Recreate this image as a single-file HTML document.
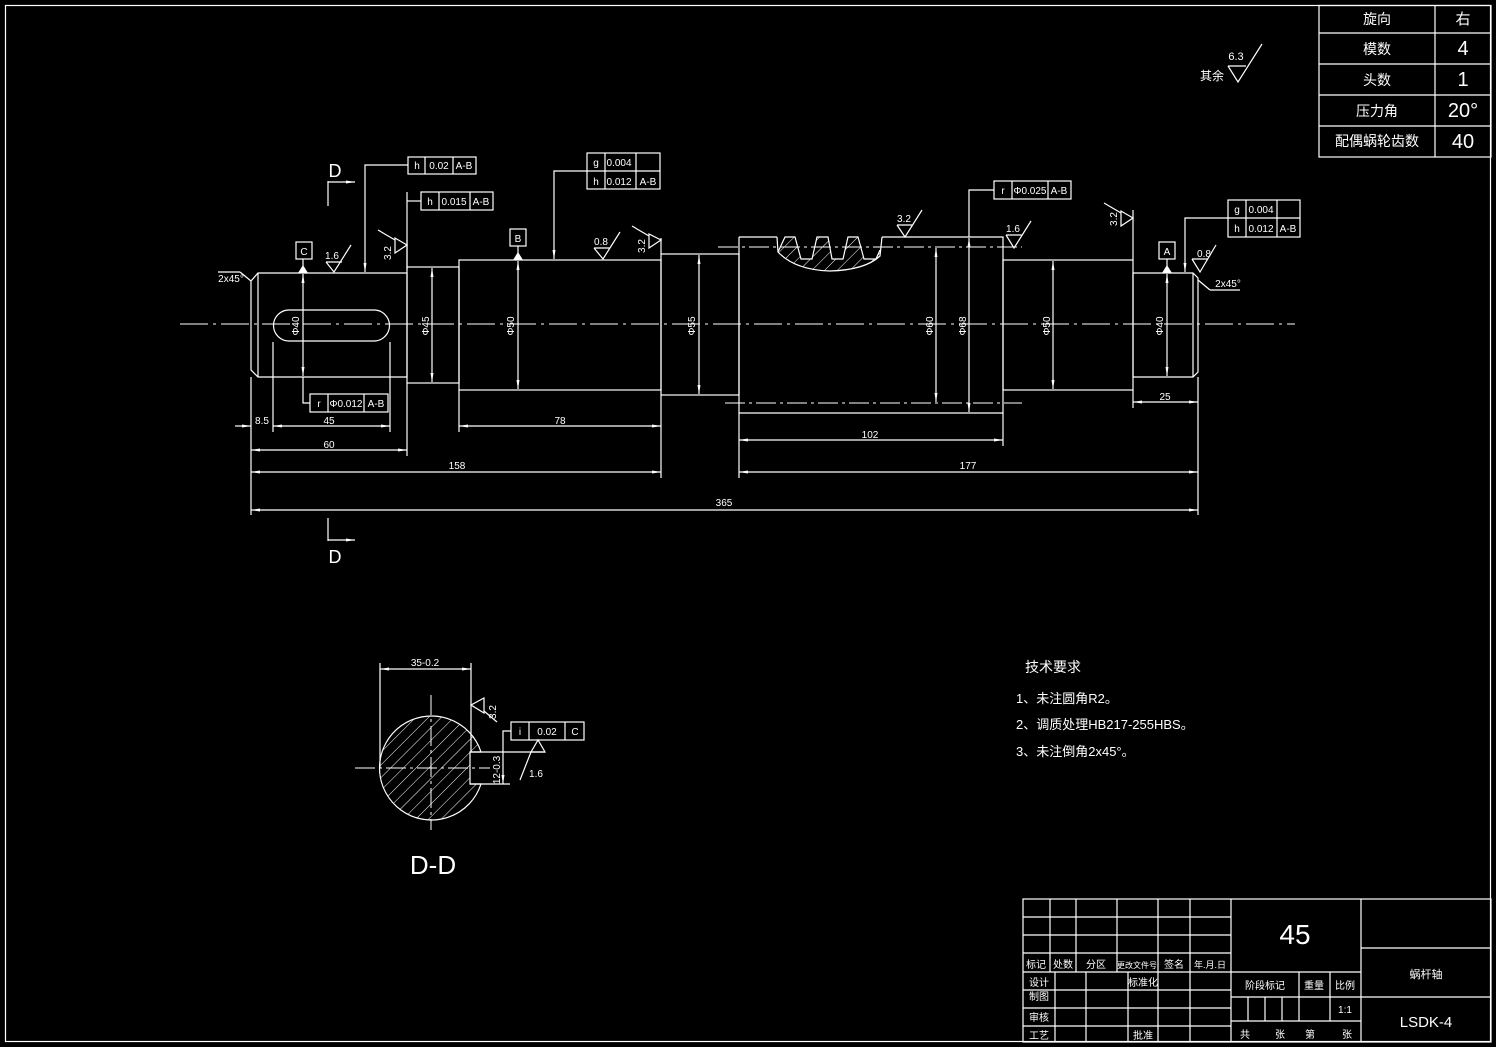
<!DOCTYPE html>
<html><head><meta charset="utf-8"><style>
html,body{margin:0;padding:0;background:#000;}
svg{display:block;}
text{fill:#fff;font-family:"Liberation Sans","Noto Sans CJK SC",sans-serif;}
</style></head><body>
<svg width="1496" height="1047" viewBox="0 0 1496 1047" xmlns="http://www.w3.org/2000/svg">
<defs>
<pattern id="hat" width="9" height="9" patternUnits="userSpaceOnUse" patternTransform="rotate(45)">
<line x1="0" y1="0" x2="0" y2="9" stroke="#fff" stroke-width="1"/>
</pattern>
<marker id="ar" markerWidth="10" markerHeight="6" refX="9" refY="3" orient="auto" markerUnits="userSpaceOnUse"><path d="M0,1.5 L9,3 L0,4.5 Z" fill="#fff"/></marker>
<marker id="al" markerWidth="10" markerHeight="6" refX="1" refY="3" orient="auto" markerUnits="userSpaceOnUse"><path d="M10,1.5 L1,3 L10,4.5 Z" fill="#fff"/></marker>
</defs>
<g stroke="#fff" stroke-width="1.2" fill="none">
<rect x="5.5" y="5.5" width="1485" height="1036"/>
<rect x="1319" y="5.5" width="172" height="151.5"/>
<line x1="1319" y1="33" x2="1491" y2="33"/><line x1="1319" y1="64" x2="1491" y2="64"/>
<line x1="1319" y1="95" x2="1491" y2="95"/><line x1="1319" y1="126" x2="1491" y2="126"/>
<line x1="1435" y1="5" x2="1435" y2="157"/>
<path d="M1228,66 L1246,66 M1228,66 L1238,82 L1262,44"/>

<line x1="180" y1="324" x2="1295" y2="324" stroke-dasharray="28,5,3,5" stroke-width="1"/>
<path d="M258,273 L407,273 L407,377 L258,377 L251,370 L251,281 Z"/>
<line x1="258" y1="273" x2="258" y2="377"/>
<path d="M289,310 L374,310 A15.5,15.5 0 0 1 374,341 L289,341 A15.5,15.5 0 0 1 289,310 Z"/>
<rect x="407" y="267" width="52" height="116"/>
<rect x="459" y="260" width="202" height="130"/>
<rect x="661" y="254" width="78" height="141"/>
<path d="M739,237 L777,237"/>
<path d="M882,237 L1003,237 L1003,413 L739,413 L739,237"/>
<line x1="718" y1="247" x2="1022" y2="247" stroke-dasharray="20,4,3,4" stroke-width="1"/>
<line x1="725" y1="403" x2="1022" y2="403" stroke-dasharray="20,4,3,4" stroke-width="1"/>
<path d="M778,252 L785,237 L795,237 L801,259 L812,259 L817,237 L828,237 L832,259 L843,259 L848,237 L858,237 L864,259 L876,259 L880,250 L880,256 Q865,270 830,271 Q795,270 778,252 Z" fill="url(#hat)" stroke="none"/>
<path d="M777,237 L778,252 Q795,270 830,271 Q865,270 880,256 L882,237" />
<path d="M778,252 L785,237 L795,237 L801,259 L812,259 L817,237 L828,237 L832,259 L843,259 L848,237 L858,237 L864,259 L876,259 L880,250" />
<rect x="1003" y="260" width="130" height="130"/>
<path d="M1133,273 L1193,273 L1198,278 L1198,372 L1193,377 L1133,377 Z"/>
<line x1="1193" y1="273" x2="1193" y2="377"/>
<line x1="1198" y1="280" x2="1210" y2="290"/><line x1="1210" y1="290" x2="1240" y2="290"/>
<line x1="251" y1="281" x2="240" y2="272"/><line x1="240" y1="272" x2="218" y2="272"/>

<g marker-start="url(#al)" marker-end="url(#ar)">
<line x1="303" y1="274" x2="303" y2="376"/>
<line x1="432" y1="268" x2="432" y2="382"/>
<line x1="518" y1="261" x2="518" y2="389"/>
<line x1="699" y1="255" x2="699" y2="394"/>
<line x1="936" y1="248" x2="936" y2="402"/>
<line x1="969" y1="238" x2="969" y2="412"/>
<line x1="1053" y1="261" x2="1053" y2="389"/>
<line x1="1167" y1="274" x2="1167" y2="376"/>
</g>
<line x1="251" y1="377" x2="251" y2="515"/>
<line x1="273" y1="342" x2="273" y2="432"/>
<line x1="390" y1="342" x2="390" y2="432"/>
<line x1="407" y1="383" x2="407" y2="456"/>
<line x1="459" y1="390" x2="459" y2="432"/>
<line x1="661" y1="395" x2="661" y2="478"/>
<line x1="739" y1="413" x2="739" y2="478"/>
<line x1="1003" y1="413" x2="1003" y2="446"/>
<line x1="1133" y1="390" x2="1133" y2="408"/>
<line x1="1198" y1="377" x2="1198" y2="515"/>
<g marker-start="url(#al)" marker-end="url(#ar)">
<line x1="273" y1="426" x2="390" y2="426"/>
<line x1="251" y1="450" x2="407" y2="450"/>
<line x1="459" y1="426" x2="661" y2="426"/>
<line x1="251" y1="472" x2="661" y2="472"/>
<line x1="739" y1="440" x2="1003" y2="440"/>
<line x1="739" y1="472" x2="1198" y2="472"/>
<line x1="1133" y1="402" x2="1198" y2="402"/>
<line x1="251" y1="510" x2="1198" y2="510"/>
</g>
<line x1="235" y1="426" x2="251" y2="426" marker-end="url(#ar)"/>

<line x1="328" y1="181" x2="328" y2="206"/><line x1="328" y1="182" x2="355" y2="182" marker-end="url(#ar)"/>
<line x1="328" y1="518" x2="328" y2="541"/><line x1="328" y1="540" x2="355" y2="540" marker-end="url(#ar)"/>

<rect x="408" y="157" width="68" height="17"/><line x1="425" y1="157" x2="425" y2="174"/><line x1="453" y1="157" x2="453" y2="174"/>
<path d="M408,165 L365,165 L365,272" marker-end="url(#ar)"/>
<rect x="421" y="192" width="72" height="18"/><line x1="439" y1="192" x2="439" y2="210"/><line x1="470" y1="192" x2="470" y2="210"/>
<line x1="421" y1="201" x2="407" y2="201"/><line x1="407" y1="192" x2="407" y2="267"/>
<rect x="587" y="153" width="73" height="36"/><line x1="587" y1="171" x2="660" y2="171"/><line x1="605" y1="153" x2="605" y2="189"/><line x1="636" y1="153" x2="636" y2="189"/>
<path d="M587,171 L554,171 L554,259" marker-end="url(#ar)"/>
<rect x="310" y="394" width="78" height="18"/><line x1="328" y1="394" x2="328" y2="412"/><line x1="364" y1="394" x2="364" y2="412"/>
<path d="M310,403 L303,403 L303,377"/>
<rect x="994" y="181" width="77" height="18"/><line x1="1012" y1="181" x2="1012" y2="199"/><line x1="1048" y1="181" x2="1048" y2="199"/>
<path d="M994,190 L969,190 L969,237"/>
<rect x="1228" y="200" width="72" height="37"/><line x1="1228" y1="218" x2="1300" y2="218"/><line x1="1246" y1="200" x2="1246" y2="237"/><line x1="1277" y1="200" x2="1277" y2="237"/>
<path d="M1228,218 L1185,218 L1185,272" marker-end="url(#ar)"/>
<rect x="296" y="242" width="16" height="17"/><line x1="303" y1="259" x2="303" y2="273"/>
<rect x="510" y="229" width="16" height="17"/><line x1="518" y1="246" x2="518" y2="260"/>
<rect x="1159" y="242" width="16" height="17"/><line x1="1167" y1="259" x2="1167" y2="273"/>
<path d="M326,262 L342,262 M326,262 L334,272 L351,245"/>
<path d="M594,248 L610,248 M594,248 L603,259 L620,232"/>
<path d="M897,225 L913,225 M897,225 L905,237 L922,210"/>
<path d="M1006,235 L1022,235 M1006,235 L1014,248 L1031,221"/>
<path d="M1192,259 L1208,259 M1192,259 L1200,272 L1216,245"/>
<path d="M407,245 L395,238 L395,253 Z M395,240 L378,230"/>
<path d="M661,240 L649,234 L649,248 Z M649,236 L632,226"/>
<path d="M1133,218 L1121,211 L1121,226 Z M1121,213 L1104,203"/>
<line x1="407" y1="240" x2="407" y2="270"/>
<line x1="661" y1="238" x2="661" y2="254"/>
<line x1="1133" y1="210" x2="1133" y2="260"/>
</g>
<g fill="#fff"><path d="M298,273 L308,273 L303,265Z"/><path d="M513,260 L523,260 L518,252Z"/><path d="M1162,273 L1172,273 L1167,265Z"/></g>

<g stroke="#fff" stroke-width="1.2" fill="none">
<path d="M470,752 L481,752 A52,52 0 1 0 481,784 L470,784 Z" fill="url(#hat)"/>
<line x1="355" y1="768" x2="490" y2="768" stroke-dasharray="20,4,3,4" stroke-width="1"/>
<line x1="431" y1="695" x2="431" y2="830" stroke-dasharray="20,4,3,4" stroke-width="1"/>
<line x1="380" y1="663" x2="380" y2="768"/><line x1="471" y1="663" x2="471" y2="752"/>
<line x1="380" y1="669" x2="471" y2="669" marker-start="url(#al)" marker-end="url(#ar)"/>
<line x1="470" y1="752" x2="545" y2="752"/><line x1="470" y1="784" x2="510" y2="784"/>
<line x1="503" y1="740" x2="503" y2="784" marker-end="url(#ar)"/>
<path d="M503,740 L503,731 L511,731"/>
<rect x="511" y="722" width="73" height="18"/><line x1="529" y1="722" x2="529" y2="740"/><line x1="565" y1="722" x2="565" y2="740"/>
<path d="M471,705 L484,698 L484,713 Z M484,711 L497,722"/>
<path d="M531,752 L538,740 L545,752 Z M531,752 L520,780"/>
</g>

<g stroke="#fff" stroke-width="1.2" fill="none">
<rect x="1023" y="899" width="468" height="143"/>
<line x1="1023" y1="917" x2="1231" y2="917"/><line x1="1023" y1="935" x2="1231" y2="935"/><line x1="1023" y1="953" x2="1231" y2="953"/>
<line x1="1023" y1="972" x2="1361" y2="972"/><line x1="1023" y1="990" x2="1231" y2="990"/><line x1="1023" y1="1008" x2="1231" y2="1008"/><line x1="1023" y1="1026" x2="1231" y2="1026"/>
<line x1="1050" y1="899" x2="1050" y2="972"/><line x1="1076" y1="899" x2="1076" y2="972"/><line x1="1117" y1="899" x2="1117" y2="972"/><line x1="1158" y1="899" x2="1158" y2="1042"/><line x1="1190" y1="899" x2="1190" y2="1042"/>
<line x1="1055" y1="972" x2="1055" y2="1042"/><line x1="1086" y1="972" x2="1086" y2="1042"/><line x1="1128" y1="972" x2="1128" y2="1042"/>
<line x1="1231" y1="899" x2="1231" y2="1042"/><line x1="1361" y1="899" x2="1361" y2="1042"/>
<line x1="1231" y1="997" x2="1361" y2="997"/><line x1="1231" y1="1021" x2="1361" y2="1021"/>
<line x1="1299" y1="972" x2="1299" y2="1021"/><line x1="1330" y1="972" x2="1330" y2="1021"/>
<line x1="1248" y1="997" x2="1248" y2="1021"/><line x1="1265" y1="997" x2="1265" y2="1021"/><line x1="1282" y1="997" x2="1282" y2="1021"/>
<line x1="1361" y1="948" x2="1491" y2="948"/><line x1="1361" y1="997" x2="1491" y2="997"/>
</g>

<g font-size="13" text-anchor="middle">
<text x="1377" y="24" font-size="14">旋向</text><text x="1463" y="24" font-size="15">右</text>
<text x="1377" y="54" font-size="14">模数</text><text x="1463" y="55" font-size="20">4</text>
<text x="1377" y="85" font-size="14">头数</text><text x="1463" y="86" font-size="20">1</text>
<text x="1377" y="116" font-size="14">压力角</text><text x="1463" y="117" font-size="20">20°</text>
<text x="1377" y="146" font-size="14">配偶蜗轮齿数</text><text x="1463" y="148" font-size="20">40</text>
<text x="1236" y="60" font-size="11">6.3</text><text x="1212" y="80" font-size="12">其余</text>
<text x="335" y="177" font-size="18">D</text><text x="335" y="563" font-size="18">D</text>
</g>
<g font-size="10" text-anchor="middle">
<text x="417" y="169">h</text><text x="439" y="169">0.02</text><text x="464" y="169">A-B</text>
<text x="430" y="205">h</text><text x="454" y="205">0.015</text><text x="481" y="205">A-B</text>
<text x="596" y="166">g</text><text x="619" y="166">0.004</text>
<text x="596" y="185">h</text><text x="619" y="185">0.012</text><text x="648" y="185">A-B</text>
<text x="319" y="407">r</text><text x="346" y="407">Φ0.012</text><text x="376" y="407">A-B</text>
<text x="1003" y="194">r</text><text x="1030" y="194">Φ0.025</text><text x="1059" y="194">A-B</text>
<text x="1237" y="213">g</text><text x="1261" y="213">0.004</text>
<text x="1237" y="232">h</text><text x="1261" y="232">0.012</text><text x="1288" y="232">A-B</text>
<text x="520" y="735">i</text><text x="547" y="735">0.02</text><text x="575" y="735">C</text>
<text x="304" y="255">C</text><text x="518" y="242">B</text><text x="1167" y="255">A</text>
<text x="332" y="259">1.6</text><text x="601" y="245">0.8</text><text x="904" y="222">3.2</text>
<text x="1013" y="232">1.6</text><text x="1204" y="257">0.8</text>
<text x="231" y="282">2x45°</text><text x="1228" y="287">2x45°</text>
<text x="262" y="424">8.5</text><text x="329" y="424">45</text><text x="329" y="448">60</text>
<text x="560" y="424">78</text><text x="457" y="469">158</text><text x="870" y="438">102</text>
<text x="968" y="469">177</text><text x="1165" y="400">25</text><text x="724" y="506">365</text>
<text x="425" y="666">35-0.2</text><text x="536" y="777">1.6</text>
</g>
<g font-size="10" text-anchor="middle">
<text transform="translate(299,326) rotate(-90)">Φ40</text>
<text transform="translate(429,326) rotate(-90)">Φ45</text>
<text transform="translate(514,326) rotate(-90)">Φ50</text>
<text transform="translate(695,326) rotate(-90)">Φ55</text>
<text transform="translate(933,326) rotate(-90)">Φ60</text>
<text transform="translate(966,326) rotate(-90)">Φ68</text>
<text transform="translate(1050,326) rotate(-90)">Φ50</text>
<text transform="translate(1163,326) rotate(-90)">Φ40</text>
<text transform="translate(391,253) rotate(-90)">3.2</text>
<text transform="translate(645,246) rotate(-90)">3.2</text>
<text transform="translate(1117,219) rotate(-90)">3.2</text>
<text transform="translate(496,712) rotate(-90)">3.2</text>
<text transform="translate(500,770) rotate(-90)">12-0.3</text>
</g>
<text x="433" y="874" font-size="26" text-anchor="middle">D-D</text>
<g font-size="14">
<text x="1025" y="672">技术要求</text>
<text x="1016" y="703" font-size="13">1、未注圆角R2。</text>
<text x="1016" y="729" font-size="13">2、调质处理HB217-255HBS。</text>
<text x="1016" y="756" font-size="13">3、未注倒角2x45°。</text>
</g>
<g font-size="10" text-anchor="middle">
<text x="1036" y="968">标记</text><text x="1063" y="968">处数</text><text x="1096" y="968">分区</text><text x="1137" y="968" font-size="8">更改文件号</text><text x="1174" y="968">签名</text><text x="1210" y="968" font-size="9">年.月.日</text>
<text x="1039" y="986">设计</text><text x="1143" y="986">标准化</text><text x="1039" y="1000">制图</text>
<text x="1039" y="1021">审核</text><text x="1039" y="1039">工艺</text><text x="1143" y="1039">批准</text>
<text x="1265" y="989">阶段标记</text><text x="1314" y="989">重量</text><text x="1345" y="989">比例</text>
<text x="1345" y="1013">1:1</text>
<text x="1245" y="1038">共</text><text x="1280" y="1038">张</text><text x="1310" y="1038">第</text><text x="1347" y="1038">张</text>
<text x="1426" y="978" font-size="11">蜗杆轴</text>
</g>
<text x="1295" y="944" font-size="28" text-anchor="middle">45</text>
<text x="1426" y="1027" font-size="15" text-anchor="middle">LSDK-4</text>
</svg>
</body></html>
